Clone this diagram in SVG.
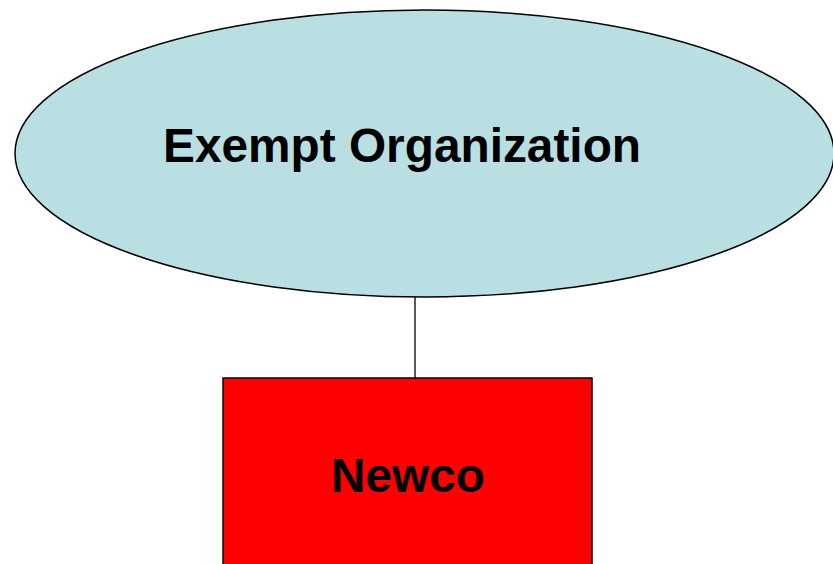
<svg xmlns="http://www.w3.org/2000/svg" width="833" height="564" viewBox="0 0 833 564">
<style>
.lbl{font-family:"Liberation Sans",Arial,sans-serif;font-weight:bold;font-size:47.8px;fill:#000}
.edge{stroke:#000;stroke-width:1.3;fill:none}
</style>
<rect width="833" height="564" fill="#fff"/>
<g id="connectors">
<line class="edge" x1="415" y1="297" x2="415" y2="378"/>
</g>
<g id="exempt">
<ellipse cx="424.5" cy="153.5" rx="409.5" ry="143.5" fill="#b9dfe3" stroke="#000" stroke-width="1.5"/>
<text class="lbl" x="163" y="162">Exempt Organization</text>
</g>
<g id="newco">
<rect x="223" y="378" width="369" height="200" fill="#ff0000" stroke="#000" stroke-width="1.5"/>
<text class="lbl" x="331" y="492">Newco</text>
</g>
</svg>
